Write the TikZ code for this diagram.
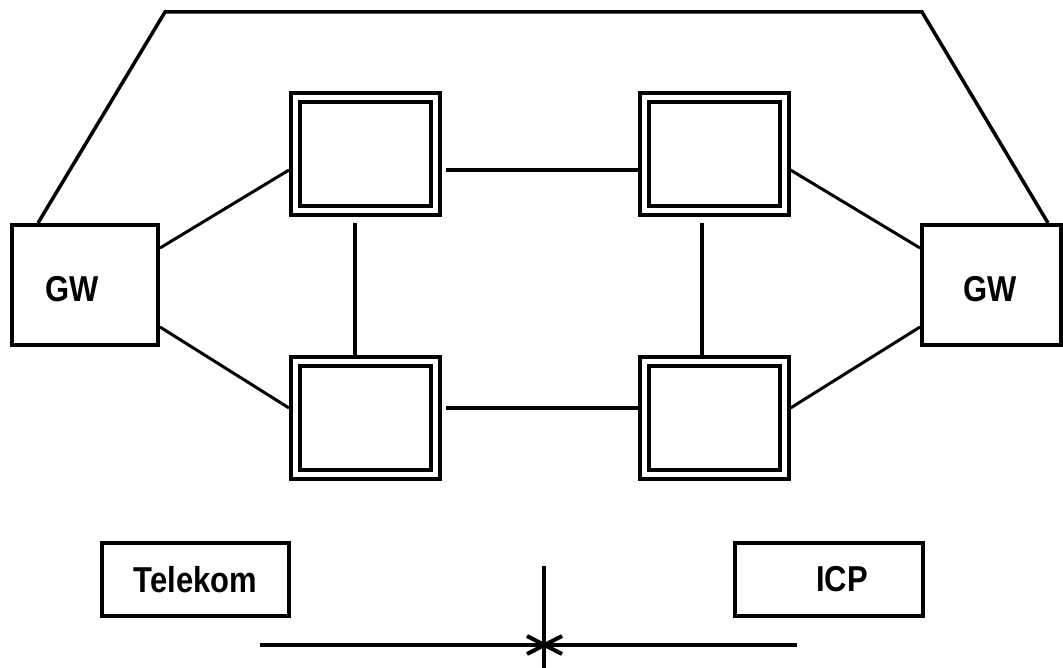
\documentclass[tikz,border=0pt]{standalone}
\usepackage{fontspec}
\setmainfont{Liberation Sans}[FakeStretch=0.86]
\usetikzlibrary{calc}
\begin{document}
\begin{tikzpicture}[x=1pt,y=-1pt,
  every node/.style={font=\fontsize{36}{40}\selectfont\bfseries},
  gwbox/.style={draw, line width=4pt, inner sep=0pt, outer sep=2pt,
    minimum width=146pt, minimum height=120pt},
  switchbox/.style={draw, line width=4pt, double=white, double distance=5pt,
    inner sep=0pt, outer sep=6.5pt, minimum width=140pt, minimum height=113pt},
  orgbox/.style={draw, line width=4pt, inner sep=0pt, outer sep=2pt,
    minimum width=187pt, minimum height=73pt},
  link/.style={line width=3.5pt},
  access/.style={line width=3pt},
  trunk/.style={line width=3.5pt, line join=miter},
  busline/.style={line width=4pt}]
\useasboundingbox (0,0) rectangle (1063,668);

% gateways
\node[gwbox] (lgw) at (85,285) {};
\node at (72,289) {GW};
\node[gwbox, minimum width=139pt] (rgw) at (991.5,285) {};
\node at (990,289) {GW};

% switching nodes of the core ring
\node[switchbox] (tl) at (365.5,154) {};
\node[switchbox] (tr) at (714,154) {};
\node[switchbox] (bl) at (365.5,417.5) {};
\node[switchbox] (br) at (714,417.5) {};

% ring links
\draw[link] ($(tl.east)+(4,16)$) -- ($(tr.west)+(0,16)$);
\draw[link] ($(bl.east)+(4,-9.5)$) -- ($(br.west)+(0,-9.5)$);
\draw[link] ($(tl.south)+(-10.5,6)$) -- ($(bl.north)+(-10.5,0)$);
\draw[link] ($(tr.south)+(-12,6)$) -- ($(br.north)+(-12,0)$);

% gateway access links
\draw[access] ($(lgw.east)+(0,-37)$) -- ($(tl.west)+(0,16)$);
\draw[access] ($(lgw.east)+(0,42)$) -- ($(bl.west)+(0,-9.5)$);
\draw[access] ($(tr.east)+(0,16)$) -- ($(rgw.west)+(0,-37)$);
\draw[access] ($(br.east)+(0,-9.5)$) -- ($(rgw.west)+(0,42)$);

% direct trunk between the gateways
\coordinate (trunkL) at (165,12);
\coordinate (trunkR) at (922,12);
\draw[trunk] ($(lgw.north)+(-47,0)$) -- (trunkL) -- (trunkR) -- ($(rgw.north)+(56.5,0)$);

% operators
\node[orgbox] (tel) at (195.5,579.5) {Telekom};
\node[orgbox, minimum width=188pt] (icp) at (829,579.5) {\hspace*{26pt}ICP};

% interconnection bus
\coordinate (busL) at (260,645);
\coordinate (busR) at (797,645);
\coordinate (hub) at (544,645);
\coordinate (tapTop) at (544,566);
\coordinate (tapBot) at (544,668);
\draw[busline] (busL) -- (busR);
\draw[busline] (tapTop) -- (tapBot);
\draw[busline] ($(hub)+(-17,-9)$) -- ($(hub)+(18,9)$);
\draw[busline] ($(hub)+(-17,9)$) -- ($(hub)+(18,-9)$);
\end{tikzpicture}
\end{document}
